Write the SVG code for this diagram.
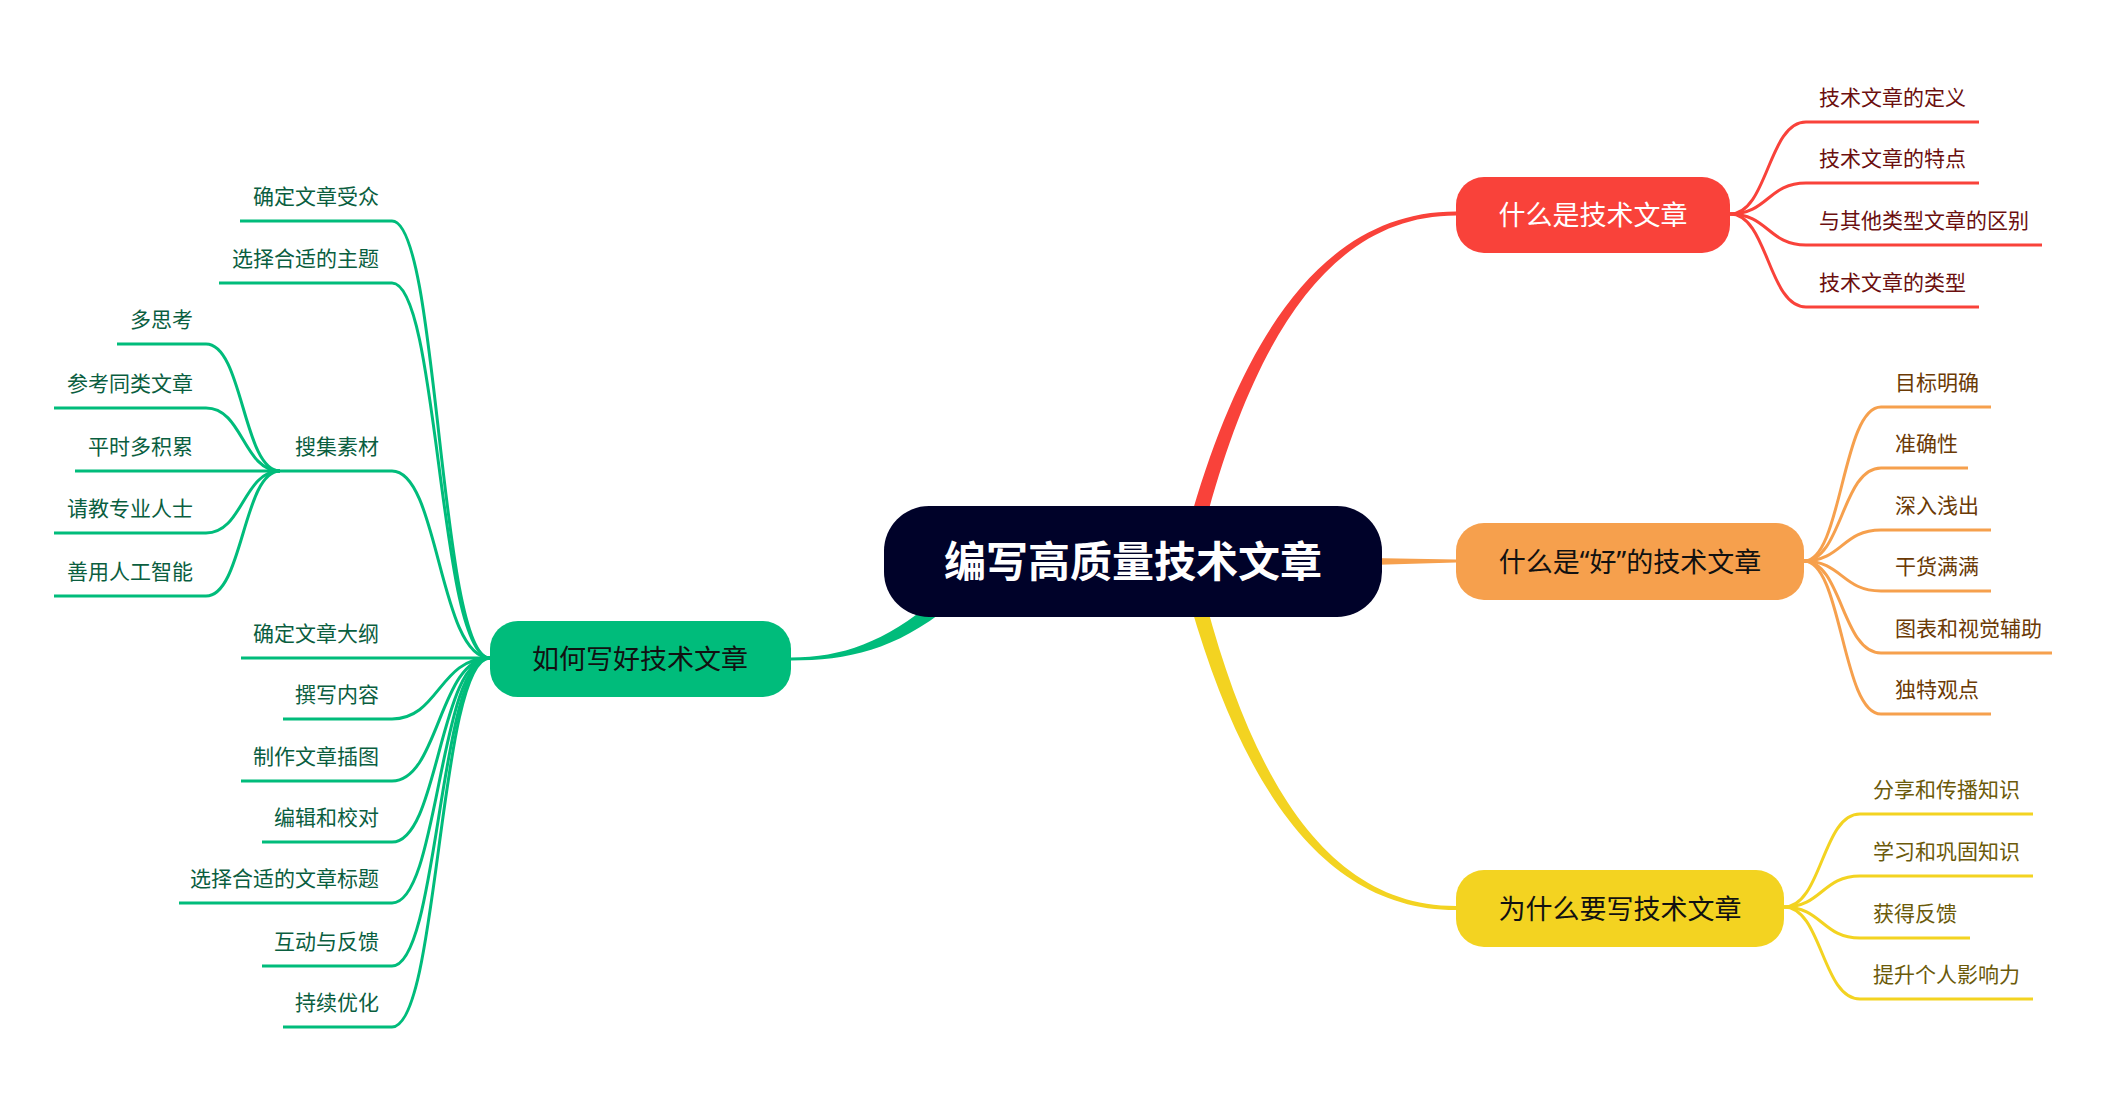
<svg xmlns="http://www.w3.org/2000/svg" width="2128" height="1104" viewBox="0 0 2128 1104">
<style>
text{font-family:"Noto Sans CJK SC","Microsoft YaHei",sans-serif;dominant-baseline:central}
.q{font-family:"Noto Sans","Liberation Sans",sans-serif}
.l{fill:none;stroke-width:3;stroke-linecap:butt}
.r{stroke:#F9423A}.o{stroke:#F6A04D}.y{stroke:#F3D321}.g{stroke:#00BC7B}
.tr{fill:#6B0F0F;font-size:21px}.to{fill:#6B3A05;font-size:21px}.ty{fill:#6B5A0A;font-size:21px}.tg{fill:#0A5E3F;font-size:21px}
.nt{font-size:27px;text-anchor:middle}
</style>
<rect width="2128" height="1104" fill="#fff"/>
<g id="connectors">
<!-- main branches -->
<path d="M1190 520 C1245 328 1328 211.5 1456 211.5 L1456 215.5 C1332 215.5 1256 334 1206 520 Z" fill="#F9423A"/>
<path d="M1190 603 C1245 795 1328 910 1456 910 L1456 906 C1332 906 1256 789 1206 603 Z" fill="#F3D321"/>
<path d="M1370 558 L1456 559.5 L1456 562.5 L1370 565 Z" fill="#F6A04D"/>
<path d="M935 600 C885 642 842 657.5 791 657.5 L791 660.5 C848 660.5 895 650 950 606 Z" fill="#00BC7B"/>
<!-- red children -->
<path class="l r" d="M1730 214 C1768 214 1768 122 1806 122 L1979 122"/>
<path class="l r" d="M1730 214 C1768 214 1768 183 1806 183 L1979 183"/>
<path class="l r" d="M1730 214 C1768 214 1768 245 1806 245 L2042 245"/>
<path class="l r" d="M1730 214 C1768 214 1768 307 1806 307 L1979 307"/>
<!-- orange children -->
<path class="l o" d="M1804 561 C1842 561 1842 407 1881 407 L1991 407"/>
<path class="l o" d="M1804 561 C1842 561 1842 468 1881 468 L1968 468"/>
<path class="l o" d="M1804 561 C1842 561 1842 530 1881 530 L1991 530"/>
<path class="l o" d="M1804 561 C1842 561 1842 591 1881 591 L1991 591"/>
<path class="l o" d="M1804 561 C1842 561 1842 653 1881 653 L2052 653"/>
<path class="l o" d="M1804 561 C1842 561 1842 714 1881 714 L1991 714"/>
<!-- yellow children -->
<path class="l y" d="M1784 907 C1822 907 1822 814 1860 814 L2033 814"/>
<path class="l y" d="M1784 907 C1822 907 1822 876 1860 876 L2033 876"/>
<path class="l y" d="M1784 907 C1822 907 1822 938 1860 938 L1970 938"/>
<path class="l y" d="M1784 907 C1822 907 1822 999 1860 999 L2033 999"/>
<!-- green children -->
<path class="l g" d="M490 658 C439 658 439 221 392 221 L240 221"/>
<path class="l g" d="M490 658 C439 658 439 283 392 283 L219 283"/>
<path class="l g" d="M490 658 C439 658 439 471 392 471 L280 471"/>
<path class="l g" d="M490 658 L241 658"/>
<path class="l g" d="M490 658 C439 658 439 719 392 719 L283 719"/>
<path class="l g" d="M490 658 C439 658 439 781 392 781 L241 781"/>
<path class="l g" d="M490 658 C439 658 439 842 392 842 L262 842"/>
<path class="l g" d="M490 658 C439 658 439 903 392 903 L179 903"/>
<path class="l g" d="M490 658 C439 658 439 966 392 966 L262 966"/>
<path class="l g" d="M490 658 C439 658 439 1027 392 1027 L283 1027"/>
<!-- 搜集素材 children -->
<path class="l g" d="M280 471 C243 471 243 344 206 344 L117 344"/>
<path class="l g" d="M280 471 C243 471 243 408 206 408 L54 408"/>
<path class="l g" d="M280 471 L75 471"/>
<path class="l g" d="M280 471 C243 471 243 533 206 533 L54 533"/>
<path class="l g" d="M280 471 C243 471 243 596 206 596 L54 596"/>
</g>
<g id="center">
<rect x="884" y="506" width="498" height="111" rx="45" fill="#000229"/>
<text x="1133" y="558" font-size="42" font-weight="bold" fill="#fff" text-anchor="middle">编写高质量技术文章</text>
</g>
<g id="n-what">
<rect x="1456" y="177" width="274" height="76" rx="28" fill="#F9423A"/>
<text class="nt" x="1593" y="213" fill="#fff">什么是技术文章</text>
</g>
<g id="n-good">
<rect x="1456" y="523" width="348" height="77" rx="28" fill="#F6A04D"/>
<text class="nt" x="1630" y="560" fill="#111">什么是<tspan class="q">“</tspan>好<tspan class="q">”</tspan>的技术文章</text>
</g>
<g id="n-why">
<rect x="1456" y="870" width="328" height="77" rx="28" fill="#F3D321"/>
<text class="nt" x="1620" y="907" fill="#111">为什么要写技术文章</text>
</g>
<g id="n-how">
<rect x="490" y="621" width="301" height="76" rx="28" fill="#00BC7B"/>
<text class="nt" x="640" y="657" fill="#111">如何写好技术文章</text>
</g>
<g id="r1"><text class="tr" x="1819" y="96">技术文章的定义</text></g>
<g id="r2"><text class="tr" x="1819" y="157">技术文章的特点</text></g>
<g id="r3"><text class="tr" x="1819" y="219">与其他类型文章的区别</text></g>
<g id="r4"><text class="tr" x="1819" y="281">技术文章的类型</text></g>
<g id="o1"><text class="to" x="1895" y="381">目标明确</text></g>
<g id="o2"><text class="to" x="1895" y="442">准确性</text></g>
<g id="o3"><text class="to" x="1895" y="504">深入浅出</text></g>
<g id="o4"><text class="to" x="1895" y="565">干货满满</text></g>
<g id="o5"><text class="to" x="1895" y="627">图表和视觉辅助</text></g>
<g id="o6"><text class="to" x="1895" y="688">独特观点</text></g>
<g id="y1"><text class="ty" x="1873" y="788">分享和传播知识</text></g>
<g id="y2"><text class="ty" x="1873" y="850">学习和巩固知识</text></g>
<g id="y3"><text class="ty" x="1873" y="912">获得反馈</text></g>
<g id="y4"><text class="ty" x="1873" y="973">提升个人影响力</text></g>
<g id="g1"><text class="tg" x="379" y="195" text-anchor="end">确定文章受众</text></g>
<g id="g2"><text class="tg" x="379" y="257" text-anchor="end">选择合适的主题</text></g>
<g id="g3"><text class="tg" x="379" y="445" text-anchor="end">搜集素材</text></g>
<g id="g4"><text class="tg" x="379" y="632" text-anchor="end">确定文章大纲</text></g>
<g id="g5"><text class="tg" x="379" y="693" text-anchor="end">撰写内容</text></g>
<g id="g6"><text class="tg" x="379" y="755" text-anchor="end">制作文章插图</text></g>
<g id="g7"><text class="tg" x="379" y="816" text-anchor="end">编辑和校对</text></g>
<g id="g8"><text class="tg" x="379" y="877" text-anchor="end">选择合适的文章标题</text></g>
<g id="g9"><text class="tg" x="379" y="940" text-anchor="end">互动与反馈</text></g>
<g id="g10"><text class="tg" x="379" y="1001" text-anchor="end">持续优化</text></g>
<g id="s1"><text class="tg" x="193" y="318" text-anchor="end">多思考</text></g>
<g id="s2"><text class="tg" x="193" y="382" text-anchor="end">参考同类文章</text></g>
<g id="s3"><text class="tg" x="193" y="445" text-anchor="end">平时多积累</text></g>
<g id="s4"><text class="tg" x="193" y="507" text-anchor="end">请教专业人士</text></g>
<g id="s5"><text class="tg" x="193" y="570" text-anchor="end">善用人工智能</text></g>
</svg>
